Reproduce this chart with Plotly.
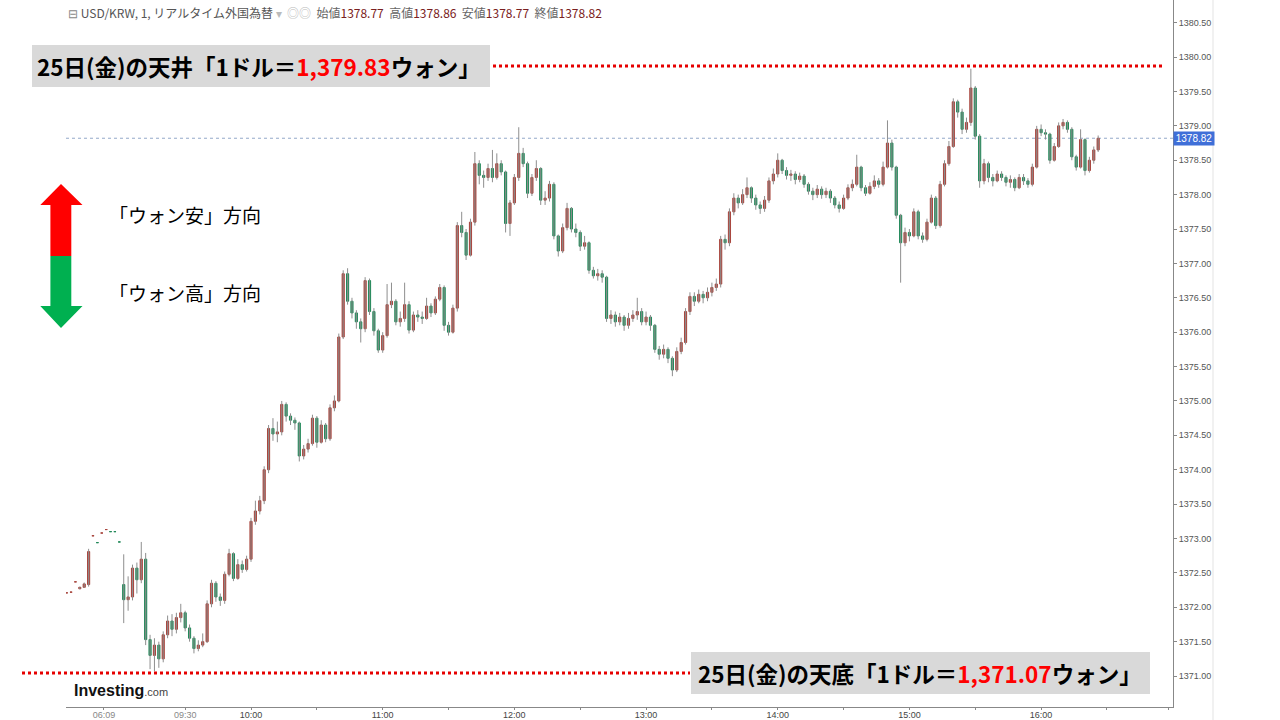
import plotly.graph_objects as go

# ---------------- data ----------------
# pre-market sparse bars (minute index relative to 09:30 on compressed axis)
pre_minutes = [-54, -52, -50, -48, -46, -44, -42, -40, -38, -36, -34, -32, -30]
pre_open  = [1372.21, 1372.22, 1372.37, 1372.27, 1372.29, 1372.33, 1373.04, 1372.94, 1373.08, 1373.13, 1373.10, 1373.10, 1372.95]
pre_high  = [1372.21, 1372.22, 1372.37, 1372.30, 1372.36, 1372.85, 1373.04, 1372.94, 1373.08, 1373.13, 1373.10, 1373.10, 1372.95]
pre_low   = [1372.21, 1372.22, 1372.37, 1372.26, 1372.28, 1372.30, 1373.04, 1372.94, 1373.08, 1373.13, 1373.10, 1373.10, 1372.95]
pre_close = [1372.21, 1372.22, 1372.37, 1372.29, 1372.34, 1372.81, 1373.04, 1372.94, 1373.08, 1373.13, 1373.10, 1373.10, 1372.95]

# session bars (2-minute steps starting at minute -28)
session_start = -28
first_open = 1372.33
closes = [
    1372.11, 1372.15, 1372.57, 1372.40, 1372.70, 1371.53, 1371.30, 1371.45, 1371.25, 1371.60,
    1371.80, 1371.68, 1371.85, 1371.92, 1371.70, 1371.55, 1371.40, 1371.45, 1371.50, 1372.05,
    1372.35, 1372.15, 1372.10, 1372.48, 1372.78, 1372.42, 1372.62, 1372.55, 1372.70, 1373.25,
    1373.40, 1373.55, 1374.00, 1374.60, 1374.52, 1374.55, 1374.95, 1374.78, 1374.72, 1374.68,
    1374.20, 1374.30, 1374.38, 1374.75, 1374.40, 1374.65, 1374.45, 1374.90, 1375.00, 1375.93,
    1376.85, 1376.45, 1376.28, 1376.15, 1376.05, 1376.75, 1376.30, 1376.02, 1375.74, 1375.95,
    1376.40, 1376.45, 1376.15, 1376.20, 1376.40, 1376.03, 1376.25, 1376.22, 1376.20, 1376.38,
    1376.28, 1376.48, 1376.65, 1376.10, 1376.00, 1376.35, 1377.55, 1377.45, 1377.12, 1377.60,
    1378.45, 1378.28, 1378.25, 1378.38, 1378.25, 1378.45, 1378.33, 1377.58, 1377.88, 1378.25,
    1378.60, 1378.45, 1378.02, 1378.25, 1378.38, 1377.92, 1377.95, 1378.15, 1377.40, 1377.18,
    1377.52, 1377.80, 1377.50, 1377.45, 1377.25, 1377.30, 1376.90, 1376.82, 1376.85, 1376.80,
    1376.20, 1376.25, 1376.15, 1376.22, 1376.10, 1376.20, 1376.25, 1376.30, 1376.15, 1376.22,
    1376.10, 1375.75, 1375.68, 1375.75, 1375.62, 1375.45, 1375.72, 1375.85, 1376.30, 1376.52,
    1376.45, 1376.55, 1376.50, 1376.58, 1376.65, 1376.70, 1377.35, 1377.30, 1377.75, 1377.95,
    1377.88, 1378.00, 1378.10, 1377.95, 1377.85, 1377.80, 1377.92, 1378.20, 1378.30, 1378.50,
    1378.35, 1378.28, 1378.30, 1378.22, 1378.27, 1378.15, 1378.05, 1378.00, 1378.08, 1378.00,
    1378.05, 1377.95, 1377.85, 1377.80, 1377.95, 1378.10, 1378.15, 1378.40, 1378.10, 1378.02,
    1378.12, 1378.20, 1378.15, 1378.40, 1378.75, 1378.40, 1377.70, 1377.30, 1377.45, 1377.40,
    1377.75, 1377.40, 1377.35, 1377.60, 1377.95, 1377.55, 1378.15, 1378.45, 1378.70, 1379.35,
    1379.20, 1378.95, 1379.05, 1379.55, 1378.85, 1378.20, 1378.45, 1378.25, 1378.20, 1378.30,
    1378.25, 1378.18, 1378.22, 1378.10, 1378.25, 1378.20, 1378.15, 1378.40, 1378.95, 1378.90,
    1378.88, 1378.50, 1378.70, 1379.00, 1379.05, 1378.95, 1378.55, 1378.40, 1378.80, 1378.35,
    1378.50, 1378.65, 1378.82,
]
highs = [
    1372.77, 1372.45, 1372.62, 1372.65, 1372.95, 1372.79, 1371.60, 1371.55, 1371.50, 1371.65,
    1371.88, 1371.90, 1371.92, 1372.05, 1371.95, 1371.75, 1371.58, 1371.52, 1371.62, 1372.10,
    1372.40, 1372.38, 1372.20, 1372.52, 1372.85, 1372.80, 1372.70, 1372.68, 1372.75, 1373.30,
    1373.55, 1373.62, 1374.05, 1374.65, 1374.75, 1374.70, 1375.00, 1374.98, 1374.82, 1374.76,
    1374.70, 1374.36, 1374.45, 1374.80, 1374.78, 1374.72, 1374.68, 1374.95, 1375.08, 1375.98,
    1376.90, 1376.93, 1376.50, 1376.32, 1376.20, 1376.80, 1376.78, 1376.35, 1376.05, 1376.00,
    1376.70, 1376.72, 1376.48, 1376.30, 1376.72, 1376.45, 1376.30, 1376.32, 1376.30, 1376.50,
    1376.42, 1376.52, 1376.70, 1376.68, 1376.15, 1376.40, 1377.60, 1377.75, 1377.50, 1377.65,
    1378.62, 1378.50, 1378.35, 1378.45, 1378.65, 1378.60, 1378.50, 1378.35, 1377.92, 1378.30,
    1378.98, 1378.68, 1378.48, 1378.30, 1378.50, 1378.40, 1378.05, 1378.20, 1378.18, 1377.42,
    1377.58, 1377.88, 1377.82, 1377.58, 1377.48, 1377.40, 1377.32, 1376.95, 1376.92, 1376.90,
    1376.82, 1376.32, 1376.30, 1376.28, 1376.25, 1376.28, 1376.32, 1376.50, 1376.35, 1376.30,
    1376.25, 1376.12, 1375.80, 1375.82, 1375.78, 1375.65, 1375.78, 1375.92, 1376.35, 1376.58,
    1376.58, 1376.62, 1376.60, 1376.65, 1376.72, 1376.78, 1377.40, 1377.42, 1377.80, 1378.02,
    1378.00, 1378.08, 1378.25, 1378.12, 1378.00, 1377.90, 1377.98, 1378.25, 1378.38, 1378.60,
    1378.52, 1378.40, 1378.36, 1378.34, 1378.32, 1378.30, 1378.18, 1378.10, 1378.14, 1378.12,
    1378.10, 1378.08, 1377.98, 1377.90, 1378.00, 1378.15, 1378.22, 1378.58, 1378.42, 1378.14,
    1378.18, 1378.28, 1378.24, 1378.48, 1379.08, 1378.80, 1378.42, 1377.72, 1377.52, 1377.50,
    1377.80, 1377.78, 1377.45, 1377.65, 1378.00, 1377.98, 1378.20, 1378.50, 1378.78, 1379.40,
    1379.38, 1379.25, 1379.12, 1379.83, 1379.58, 1378.88, 1378.52, 1378.48, 1378.30, 1378.35,
    1378.34, 1378.28, 1378.28, 1378.25, 1378.30, 1378.30, 1378.24, 1378.45, 1379.00, 1379.02,
    1378.95, 1378.90, 1378.75, 1379.05, 1379.10, 1379.08, 1378.98, 1378.58, 1378.95, 1378.82,
    1378.55, 1378.70, 1378.86,
]
lows = [
    1371.77, 1371.95, 1372.10, 1372.20, 1372.35, 1371.45, 1371.10, 1371.07, 1371.12, 1371.20,
    1371.55, 1371.58, 1371.62, 1371.78, 1371.65, 1371.50, 1371.33, 1371.36, 1371.42, 1371.48,
    1372.00, 1372.08, 1372.02, 1372.05, 1372.45, 1372.38, 1372.40, 1372.50, 1372.52, 1372.66,
    1373.20, 1373.35, 1373.50, 1373.95, 1374.42, 1374.40, 1374.50, 1374.70, 1374.65, 1374.58,
    1374.12, 1374.15, 1374.25, 1374.35, 1374.32, 1374.38, 1374.40, 1374.42, 1374.85, 1374.98,
    1375.90, 1376.40, 1376.20, 1376.05, 1375.85, 1376.00, 1376.25, 1375.95, 1375.70, 1375.70,
    1375.92, 1376.35, 1376.10, 1376.08, 1376.15, 1375.98, 1376.00, 1376.15, 1376.12, 1376.18,
    1376.22, 1376.25, 1376.45, 1376.02, 1375.95, 1375.98, 1376.30, 1377.38, 1377.05, 1377.10,
    1377.55, 1378.15, 1378.10, 1378.20, 1378.18, 1378.22, 1378.28, 1377.45, 1377.40, 1377.85,
    1378.20, 1378.40, 1377.95, 1377.98, 1378.20, 1377.85, 1377.85, 1377.90, 1377.35, 1377.10,
    1377.15, 1377.48, 1377.45, 1377.38, 1377.18, 1377.20, 1376.85, 1376.78, 1376.75, 1376.72,
    1376.15, 1376.12, 1376.08, 1376.10, 1376.02, 1376.05, 1376.15, 1376.18, 1376.10, 1376.10,
    1376.02, 1375.70, 1375.60, 1375.62, 1375.55, 1375.36, 1375.42, 1375.68, 1375.82, 1376.25,
    1376.38, 1376.42, 1376.42, 1376.45, 1376.52, 1376.60, 1376.65, 1377.20, 1377.25, 1377.70,
    1377.80, 1377.85, 1377.95, 1377.88, 1377.78, 1377.72, 1377.75, 1377.88, 1378.15, 1378.25,
    1378.30, 1378.22, 1378.20, 1378.15, 1378.18, 1378.10, 1378.00, 1377.92, 1377.95, 1377.94,
    1377.95, 1377.88, 1377.80, 1377.74, 1377.78, 1377.92, 1378.05, 1378.12, 1378.05, 1377.98,
    1378.00, 1378.08, 1378.10, 1378.12, 1378.38, 1378.35, 1377.65, 1376.72, 1377.25, 1377.32,
    1377.38, 1377.35, 1377.30, 1377.32, 1377.58, 1377.50, 1377.52, 1378.12, 1378.42, 1378.68,
    1379.12, 1378.88, 1378.90, 1379.00, 1378.80, 1378.10, 1378.15, 1378.18, 1378.12, 1378.18,
    1378.20, 1378.12, 1378.10, 1378.05, 1378.08, 1378.14, 1378.10, 1378.12, 1378.38, 1378.85,
    1378.80, 1378.45, 1378.48, 1378.68, 1378.95, 1378.90, 1378.50, 1378.35, 1378.38, 1378.28,
    1378.32, 1378.45, 1378.62,
]

x_tick_vals = [-37, 0, 30, 90, 150, 210, 270, 330, 390]
x_tick_text = ["06:09", "09:30", "10:00", "11:00", "12:00", "13:00", "14:00", "15:00", "16:00"]
x_minor_vals = [60, 120, 180, 240, 300, 360, 420, 448]
y_tick_vals = [1371.0 + 0.5 * k for k in range(20)]

last_price = 1378.82
day_high = 1379.83
day_low = 1371.07
header_values = {"始値": "1378.77", "高値": "1378.86", "安値": "1378.77", "終値": "1378.82"}

# ---------------- assemble OHLC ----------------
sess_minutes = [session_start + 2 * i for i in range(len(closes))]
sess_open = [first_open] + closes[:-1]
minutes = pre_minutes + sess_minutes
opens = pre_open + sess_open
hi = pre_high + highs
lo = pre_low + lows
cl = pre_close + closes

UP = "#a8463e"
DOWN = "#23895a"
WICK = "#8e8e8e"

wx, wy = [], []
for m, h, l in zip(minutes, hi, lo):
    wx += [m, m, None]
    wy += [l, h, None]

fig = go.Figure()
fig.add_trace(go.Scatter(x=wx, y=wy, mode="lines", line=dict(color=WICK, width=1),
                         hoverinfo="skip", showlegend=False))
fig.add_trace(go.Candlestick(
    x=minutes, open=opens, close=cl,
    high=[max(o, c) for o, c in zip(opens, cl)],
    low=[min(o, c) for o, c in zip(opens, cl)],
    increasing=dict(line=dict(color=UP, width=1), fillcolor=UP),
    decreasing=dict(line=dict(color=DOWN, width=1), fillcolor=DOWN),
    whiskerwidth=0, showlegend=False))

# ---------------- layout helpers ----------------
L, R, T, B = 66, 1173, 0, 707
def px(x):
    return (x - L) / (R - L)
def py(y):
    return (B - y) / (B - T)

shapes = []
shapes.append(dict(type="line", xref="paper", yref="y", x0=0, x1=1, y0=last_price, y1=last_price,
                   line=dict(color="#93a9c9", width=1, dash="dot"), layer="below"))
shapes.append(dict(type="line", xref="paper", yref="paper", x0=px(1213), x1=px(1213), y0=py(720), y1=1,
                   line=dict(color="#e3e3e3", width=1)))
shapes.append(dict(type="rect", xref="paper", yref="paper", x0=px(32), x1=px(490), y0=py(87), y1=py(45),
                   fillcolor="#d9d9d9", line=dict(width=0)))
shapes.append(dict(type="rect", xref="paper", yref="paper", x0=px(691), x1=px(1150), y0=py(694), y1=py(652),
                   fillcolor="#d9d9d9", line=dict(width=0)))
shapes.append(dict(type="line", xref="paper", yref="paper", x0=px(493), x1=px(1165), y0=py(66), y1=py(66),
                   line=dict(color="#e60000", width=3, dash="3px,3px")))
shapes.append(dict(type="line", xref="paper", yref="paper", x0=px(22), x1=px(690), y0=py(673), y1=py(673),
                   line=dict(color="#e60000", width=3, dash="3px,3px")))
def path(points):
    return "M " + " L ".join(f"{px(a):.5f},{py(b):.5f}" for a, b in points) + " Z"
shapes.append(dict(type="path", xref="paper", yref="paper",
                   path=path([(61, 184), (82.5, 205), (71.3, 205), (71.3, 256), (50.4, 256), (50.4, 205), (40.3, 205)]),
                   fillcolor="#ff0000", line=dict(width=0)))
shapes.append(dict(type="path", xref="paper", yref="paper",
                   path=path([(50.4, 256), (71.3, 256), (71.3, 306), (82.5, 306), (61, 328), (40.3, 306), (50.4, 306)]),
                   fillcolor="#00b050", line=dict(width=0)))

JP = "Noto Sans CJK JP"
annotations = []
VAL = "#7a2020"
LAB = "#666666"
hdr = (f"<span style='color:#888'>⊟</span> <span style='color:#555'>USD/KRW, 1, リアルタイム外国為替</span> "
       f"<span style='color:#bbb'>▾</span>  <span style='color:#bbb'>◎◎</span>  ")
hdr += "  ".join(f"{k}<span style='color:{VAL}'>{v}</span>" for k, v in header_values.items())
annotations.append(dict(xref="paper", yref="paper", x=px(66), y=py(12), xanchor="left", yanchor="middle",
                        text=hdr, showarrow=False, font=dict(family=JP, size=12, color=LAB)))
annotations.append(dict(xref="paper", yref="paper", x=px(259), y=py(66), xanchor="center", yanchor="middle",
                        text=f"<b>25日(金)の天井「1ドル＝<span style='color:#ff0000'>{day_high:,.2f}</span>ウォン」</b>",
                        showarrow=False, font=dict(family=JP, size=22.5, color="#000000")))
annotations.append(dict(xref="paper", yref="paper", x=px(920), y=py(673), xanchor="center", yanchor="middle",
                        text=f"<b>25日(金)の天底「1ドル＝<span style='color:#ff0000'>{day_low:,.2f}</span>ウォン」</b>",
                        showarrow=False, font=dict(family=JP, size=22.5, color="#000000")))
annotations.append(dict(xref="paper", yref="paper", x=px(107), y=py(214), xanchor="left", yanchor="middle",
                        text="「ウォン安」方向", showarrow=False, font=dict(family=JP, size=19, color="#000000")))
annotations.append(dict(xref="paper", yref="paper", x=px(107), y=py(292), xanchor="left", yanchor="middle",
                        text="「ウォン高」方向", showarrow=False, font=dict(family=JP, size=19, color="#000000")))
annotations.append(dict(xref="paper", yref="paper", x=px(72), y=py(690), xanchor="left", yanchor="middle",
                        text="<b>Investing</b><span style='font-size:11px;color:#444'>.com</span>", showarrow=False,
                        font=dict(family="Liberation Sans", size=16, color="#111111")))
annotations.append(dict(xref="paper", yref="y", x=1, y=last_price, xanchor="left", yanchor="middle",
                        text=f"{last_price:.2f}", showarrow=False, bgcolor="#3f6fd8", width=40, height=13,
                        borderpad=0, align="center",
                        font=dict(family="Liberation Sans", size=10, color="#ffffff")))

tickvals_x = x_tick_vals + x_minor_vals
ticktext_x = [f"<span style='color:#888'>{t}</span>" if i < 2 else t for i, t in enumerate(x_tick_text)] + [""] * len(x_minor_vals)

fig.update_layout(
    width=1280, height=720,
    margin=dict(l=L, r=1280 - R, t=T, b=720 - B, autoexpand=False),
    paper_bgcolor="#ffffff", plot_bgcolor="#ffffff",
    showlegend=False,
    shapes=shapes, annotations=annotations,
    xaxis=dict(range=[-54.3, 450.1], rangeslider=dict(visible=False), showgrid=False, zeroline=False,
               automargin=False,
               tickmode="array", tickvals=tickvals_x, ticktext=ticktext_x,
               ticks="outside", ticklen=2, tickcolor="#888888", showline=True, linecolor="#888888", linewidth=1,
               ticklabelstandoff=-3,
               tickfont=dict(family="Liberation Sans", size=9, color="#444444")),
    yaxis=dict(side="right", range=[1370.55, 1380.83], showgrid=False, zeroline=False,
               automargin=False,
               tickmode="array", tickvals=y_tick_vals, ticktext=[f"{v:.2f}" for v in y_tick_vals],
               ticks="outside", ticklen=3, tickcolor="#888888", showline=True, linecolor="#888888", linewidth=1,
               tickfont=dict(family="Liberation Sans", size=9, color="#555555")),
)

fig.write_html("out.html", config={"displayModeBar": False},
               post_script="document.body.style.margin='0px';document.body.style.overflow='hidden';")
